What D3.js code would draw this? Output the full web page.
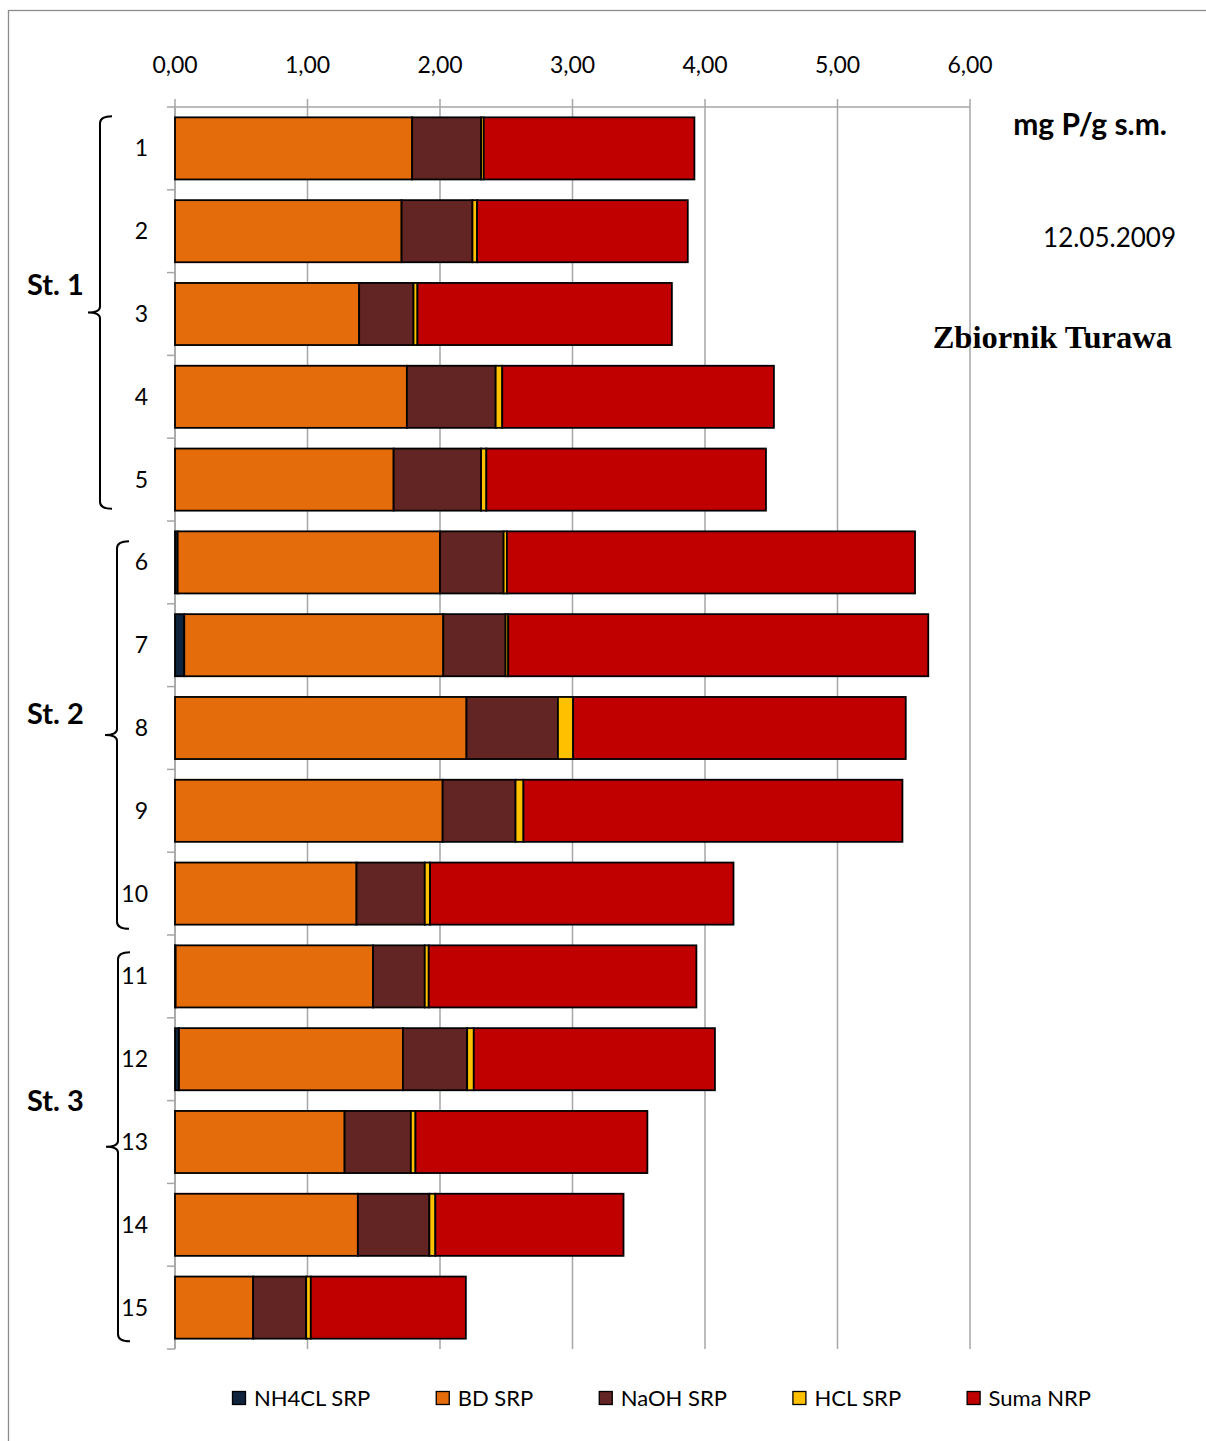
<!DOCTYPE html>
<html>
<head>
<meta charset="utf-8">
<script src="https://cdn.jsdelivr.net/npm/d3@7/dist/d3.min.js"></script>
<style>
  html, body { margin: 0; padding: 0; background: #fff; }
  svg { display: block; font-family: Lato, "Open Sans", sans-serif; }
</style>
</head>
<body>
<svg id="chart" width="1206" height="1441"></svg>
<script>
// Phosphorus fractions in sediment samples, mg P/g s.m.
const samples   = ["1","2","3","4","5","6","7","8","9","10","11","12","13","14","15"];
const seriesKeys = ["NH4CL SRP","BD SRP","NaOH SRP","HCL SRP","Suma NRP"];
const nh4clSRP  = [0.00, 0.00, 0.00, 0.00, 0.00, 0.02, 0.07, 0.00, 0.00, 0.00, 0.005, 0.03, 0.00, 0.00, 0.00];
const bdSRP     = [1.79, 1.71, 1.39, 1.75, 1.65, 1.98, 1.955, 2.20, 2.02, 1.37, 1.49, 1.69, 1.28, 1.38, 0.59];
const naohSRP   = [0.52, 0.535, 0.41, 0.67, 0.66, 0.48, 0.47, 0.69, 0.55, 0.515, 0.39, 0.485, 0.50, 0.54, 0.40];
const hclSRP    = [0.02, 0.035, 0.03, 0.05, 0.04, 0.025, 0.02, 0.115, 0.06, 0.04, 0.03, 0.05, 0.035, 0.045, 0.035];
const sumaNRP   = [1.59, 1.59, 1.92, 2.05, 2.11, 3.08, 3.17, 2.51, 2.86, 2.29, 2.02, 1.82, 1.75, 1.42, 1.17];
const xTicks    = [0, 1, 2, 3, 4, 5, 6];
const stations  = ["St. 1", "St. 2", "St. 3"];
const stationFirst = ["1", "6", "11"];
const stationLast  = ["5", "10", "15"];
const seriesColors = ["#10243e", "#e46c0a", "#632523", "#ffc000", "#c00000"];

const rows = samples.map((s, i) => ({
  sample: s,
  "NH4CL SRP": nh4clSRP[i],
  "BD SRP": bdSRP[i],
  "NaOH SRP": naohSRP[i],
  "HCL SRP": hclSRP[i],
  "Suma NRP": sumaNRP[i]
}));

const svg = d3.select("#chart");

// outer frame
svg.append("rect")
  .attr("x", 8.5).attr("y", 10.5)
  .attr("width", 1400).attr("height", 1600)
  .attr("fill", "none").attr("stroke", "#8c8c8c").attr("stroke-width", 1.3);

const x = d3.scaleLinear().domain([0, 6]).range([175, 970]);
const y = d3.scaleBand().domain(samples).range([107, 1349])
  .paddingInner(0.25).paddingOuter(0.125);
const color = d3.scaleOrdinal().domain(seriesKeys).range(seriesColors);
const fmt = d => d3.format(".2f")(d).replace(".", ",");

// vertical gridlines with short ticks above the axis
svg.append("g").selectAll("line").data(xTicks).join("line")
  .attr("x1", d => x(d)).attr("x2", d => x(d))
  .attr("y1", 99).attr("y2", 1349)
  .attr("stroke", "#a6a6a6").attr("stroke-width", 1.5);

// top value axis line
svg.append("line")
  .attr("x1", x(0)).attr("x2", x(6)).attr("y1", 107).attr("y2", 107)
  .attr("stroke", "#a6a6a6").attr("stroke-width", 1.5);

// top axis labels
svg.append("g").selectAll("text").data(xTicks).join("text")
  .attr("x", d => x(d)).attr("y", 73)
  .attr("text-anchor", "middle")
  .attr("font-size", 23).attr("fill", "#000")
  .text(fmt);

// category axis (left) with ticks at band boundaries
const bounds = samples.map(s => y(s) - y.step() * y.paddingInner() / 2).concat([1349]);
svg.append("line")
  .attr("x1", 175).attr("x2", 175).attr("y1", 107).attr("y2", 1349)
  .attr("stroke", "#a6a6a6").attr("stroke-width", 1.5);
svg.append("g").selectAll("line").data(bounds).join("line")
  .attr("x1", 167).attr("x2", 175)
  .attr("y1", d => d).attr("y2", d => d)
  .attr("stroke", "#a6a6a6").attr("stroke-width", 1.5);

svg.append("g").selectAll("text").data(samples).join("text")
  .attr("x", 148).attr("y", d => y(d) + y.bandwidth() / 2)
  .attr("dy", "0.35em").attr("text-anchor", "end")
  .attr("font-size", 23).attr("fill", "#000")
  .text(d => d);

// stacked bars
const stacked = d3.stack().keys(seriesKeys)(rows);
svg.append("g").selectAll("g").data(stacked).join("g")
  .attr("fill", d => color(d.key))
  .selectAll("rect").data(d => d).join("rect")
  .attr("x", d => x(d[0]))
  .attr("y", d => y(d.data.sample))
  .attr("width", d => x(d[1]) - x(d[0]))
  .attr("height", y.bandwidth())
  .attr("stroke", "#000").attr("stroke-width", 1.8);

// station braces
const braceX = [100, 117, 118];
const braceTopInset = [-1, 10, 7];
const braceBottomOutset = [-2, 4, 2.5];
const labelShift = [17.5, 11, 36];
stations.forEach((name, i) => {
  const y1 = y(stationFirst[i]) + braceTopInset[i];
  const y2 = y(stationLast[i]) + y.bandwidth() + braceBottomOutset[i];
  const ym = (y1 + y2) / 2;
  const bx = braceX[i];
  const p = d3.path();
  p.moveTo(bx + 12, y1);
  p.quadraticCurveTo(bx, y1, bx, y1 + 7);
  p.lineTo(bx, ym - 6);
  p.quadraticCurveTo(bx, ym, bx - 12, ym);
  p.quadraticCurveTo(bx, ym, bx, ym + 6);
  p.lineTo(bx, y2 - 7);
  p.quadraticCurveTo(bx, y2, bx + 12, y2);
  svg.append("path").attr("d", p.toString())
    .attr("fill", "none").attr("stroke", "#000").attr("stroke-width", 2);
  svg.append("text")
    .attr("x", 27).attr("y", ym - labelShift[i])
    .attr("font-size", 29).attr("font-weight", "bold").attr("fill", "#000")
    .text(name);
});

// unit, date and reservoir name
svg.append("text").attr("x", 1167).attr("y", 135).attr("text-anchor", "end")
  .attr("font-size", 30).attr("font-weight", "bold").text("mg P/g s.m.");
svg.append("text").attr("x", 1176).attr("y", 247).attr("text-anchor", "end")
  .attr("font-size", 26).text("12.05.2009");
svg.append("text").attr("x", 1172).attr("y", 348).attr("text-anchor", "end")
  .attr("font-family", "'Liberation Serif', 'DejaVu Serif', serif")
  .attr("font-size", 32.5).attr("font-weight", "bold").text("Zbiornik Turawa");

// legend, laid out left to right with measured text widths
const legend = svg.append("g");
let lx = 232;
seriesKeys.forEach(k => {
  const g = legend.append("g").attr("transform", `translate(${lx},0)`);
  g.append("rect").attr("x", 0.5).attr("y", 1391.5).attr("width", 13).attr("height", 13)
    .attr("fill", color(k)).attr("stroke", "#000").attr("stroke-width", 1.3);
  const t = g.append("text").attr("x", 22).attr("y", 1406)
    .attr("font-size", 22).attr("fill", "#000").text(k);
  lx += 22 + t.node().getComputedTextLength() + 65.5;
});
</script>
</body>
</html>
